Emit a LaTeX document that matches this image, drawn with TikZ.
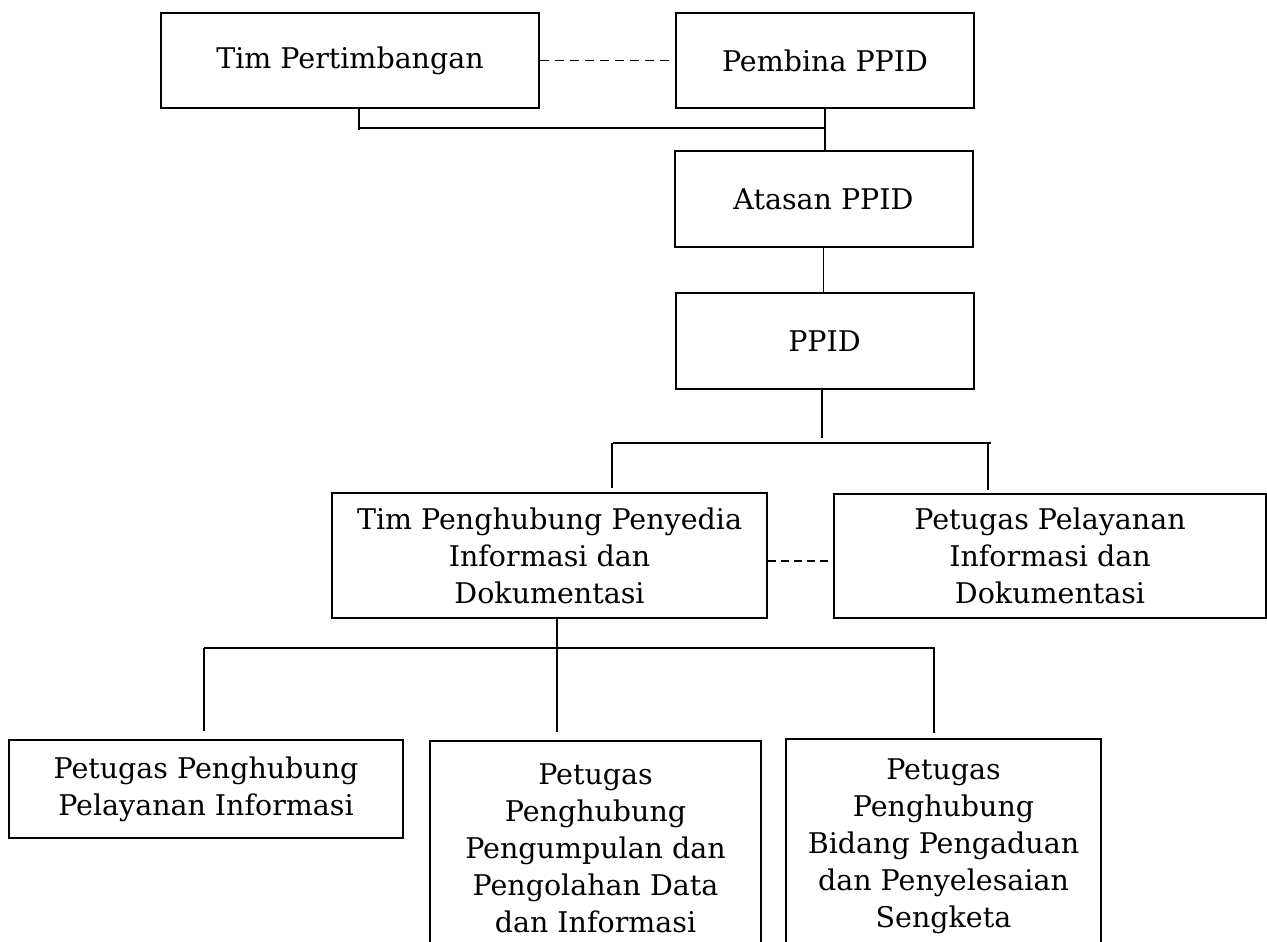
\documentclass[tikz,border=0pt]{standalone}
\usepackage{fontspec}
\setmainfont{DejaVu Serif}
\tikzset{
  bx/.style={draw, line width=2pt, align=center, inner sep=0pt, font=\fontsize{28.5}{37}\selectfont},
  ln/.style={line width=1.8pt},
  dsh/.style={line width=1.8pt, dash pattern=on 9pt off 6pt},
}
\begin{document}
\begin{tikzpicture}[x=1pt,y=-1pt]
\useasboundingbox (0,0) rectangle (1267,942);
\clip (0,0) rectangle (1267,942);
% boxes
\node[bx, minimum width=378pt, minimum height=95pt] (tp) at (350,60.5) {Tim Pertimbangan};
\node[bx, minimum width=298pt, minimum height=95pt] (pb) at (825,60.5) {Pembina PPID};
\node[bx, minimum width=298pt, minimum height=96pt] (at) at (823.5,199) {Atasan PPID};
\node[bx, minimum width=298pt, minimum height=96pt] (ppid) at (824.5,341) {PPID};
\node[bx, minimum width=435pt, minimum height=125pt] (tph) at (549.5,555.5) {Tim Penghubung Penyedia\\Informasi dan\\Dokumentasi};
\node[bx, minimum width=432pt, minimum height=124pt] (ppl) at (1050,556) {Petugas Pelayanan\\Informasi dan\\Dokumentasi};
\node[bx, minimum width=394pt, minimum height=98pt] (b1) at (206,789) {Petugas Penghubung\\Pelayanan Informasi};
\node[bx, minimum width=331pt, minimum height=214pt] (b2) at (595.5,848) {Petugas\\Penghubung\\Pengumpulan dan\\Pengolahan Data\\dan Informasi};
\node[bx, minimum width=315pt, minimum height=214pt] (b3) at (943.5,846) {Petugas\\Penghubung\\Bidang Pengaduan\\dan Penyelesaian\\Sengketa};
% top connectors
\draw[dsh] (tp.east) -- (pb.west);
\coordinate (tpd) at (359,130);
\coordinate (j1) at (825,128);
\draw[ln] (tp.south -| tpd) -- (tpd);
\draw[ln] (tpd |- j1) -- (j1);
\draw[ln] (pb.south -| j1) -- (at.north -| j1);
\draw[ln] (at.south) -- (at.south |- ppid.north);
% PPID branch
\coordinate (pd) at (822,438);
\coordinate (hl) at (613,443);
\coordinate (hr) at (991,443);
\coordinate (vl) at (612,488);
\coordinate (vr) at (988,490);
\draw[ln] (ppid.south -| pd) -- (pd);
\draw[ln] (hl) -- (hr);
\draw[ln] (vl |- hl) -- (vl);
\draw[ln] (vr |- hr) -- (vr);
\coordinate (dm) at (0,561);
\draw[dsh, dash pattern=on 8pt off 5pt] (tph.east |- dm) -- (ppl.west |- dm);
% lower branch
\coordinate (td) at (557,732);
\coordinate (bl) at (204,648);
\coordinate (br) at (935,648);
\coordinate (bvl) at (204,731);
\coordinate (bvr) at (934,733);
\draw[ln] (tph.south -| td) -- (td);
\draw[ln] (bl) -- (br);
\draw[ln] (bl) -- (bvl);
\draw[ln] (bvr |- br) -- (bvr);
\end{tikzpicture}
\end{document}
